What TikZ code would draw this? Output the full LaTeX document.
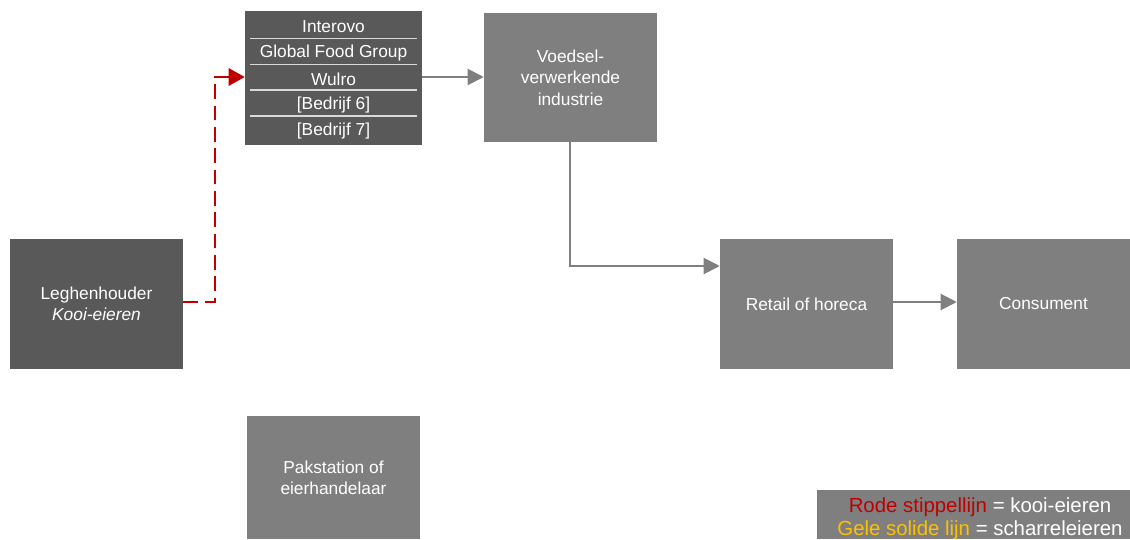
\documentclass[tikz,border=0pt]{standalone}
\usepackage{fontspec}
\setmainfont{Liberation Sans}
\usetikzlibrary{arrows.meta}
\definecolor{darkbox}{HTML}{595959}
\definecolor{midbox}{HTML}{7F7F7F}
\definecolor{redline}{HTML}{C00000}
\definecolor{yellowtxt}{HTML}{FFC000}
\definecolor{sepline}{HTML}{D9D9D9}
\tikzset{
  box/.style={rectangle, draw=none, minimum width=173*0.75pt, minimum height=130*0.75pt, inner sep=0pt,
    text=white, align=center, font=\fontsize{13}{16}\selectfont},
  darkfill/.style={box, fill=darkbox},
  midfill/.style={box, fill=midbox},
  rowtxt/.style={text=white, inner sep=0pt, font=\fontsize{13}{16}\selectfont},
  sep/.style={draw=sepline, line width=1.1pt},
  grayarrow/.style={draw=midbox, line width=1.5pt, -{Triangle[length=12pt,width=12pt]}},
  redarrow/.style={draw=redline, line width=1.5pt, dash pattern=on 11pt off 5pt, -{Triangle[length=12pt,width=13pt]}},
}
\begin{document}
\begin{tikzpicture}[x=0.75pt,y=-0.75pt]
\useasboundingbox (0,0) rectangle (1130,539);
% company list box
\node[darkfill, minimum width=177*0.75pt, minimum height=134*0.75pt] (comp) at (333.5,78) {};
\node[rowtxt] (r1) at (333.5,27) {Interovo};
\node[rowtxt] (r2) at (333.5,53) {Global Food Group};
\node[rowtxt] (r3) at (333.5,79) {Wulro};
\node[rowtxt] (r4) at (333.5,105) {[Bedrijf 6]};
\node[rowtxt] (r5) at (333.5,131) {[Bedrijf 7]};
\draw[sep] (250,38.5) -- (417,38.5);
\draw[sep] (250,64.5) -- (417,64.5);
\draw[sep] (250,90) -- (417,90);
\draw[sep] (250,116) -- (417,116);
% other boxes
\node[midfill, minimum height=129*0.75pt] (voed) at (570.5,77.5) {Voedsel-\\verwerkende\\industrie};
\node[darkfill] (leg) at (96.5,304) {Leghenhouder\\\textit{Kooi-eieren}};
\node[midfill] (ret) at (806.5,304) {Retail of horeca};
\node[midfill] (cons) at (1043.5,304) {Consument};
\node[midfill, minimum height=123*0.75pt] (pak) at (333.5,477.5) {Pakstation of\\eierhandelaar};
% legend
\node[fill=midbox, minimum width=313*0.75pt, minimum height=49*0.75pt, inner sep=0pt] (legend) at (973.5,514.5) {};
\node[align=center, inner sep=0pt, text=white, font=\fontsize{15.3}{17.3}\selectfont] (legtxt) at (980,518.5)
  {\textcolor{redline}{Rode stippellijn} = kooi-eieren\\\textcolor{yellowtxt}{Gele solide lijn} = scharreleieren};
% connectors
\coordinate (c1) at (215,302);
\coordinate (c2) at (215,77);
\draw[redarrow] (leg.east |- c1) -- (c1) -- (c2) -- (comp.west |- c2);
\coordinate (c4) at (0,77);
\draw[grayarrow] (comp.east |- c4) -- (voed.west |- c4);
\coordinate (c3) at (570,266);
\draw[grayarrow] (voed.south -| c3) -- (c3) -- (ret.west |- c3);
\coordinate (c5) at (0,302);
\draw[grayarrow] (ret.east |- c5) -- (cons.west |- c5);
\end{tikzpicture}
\end{document}
